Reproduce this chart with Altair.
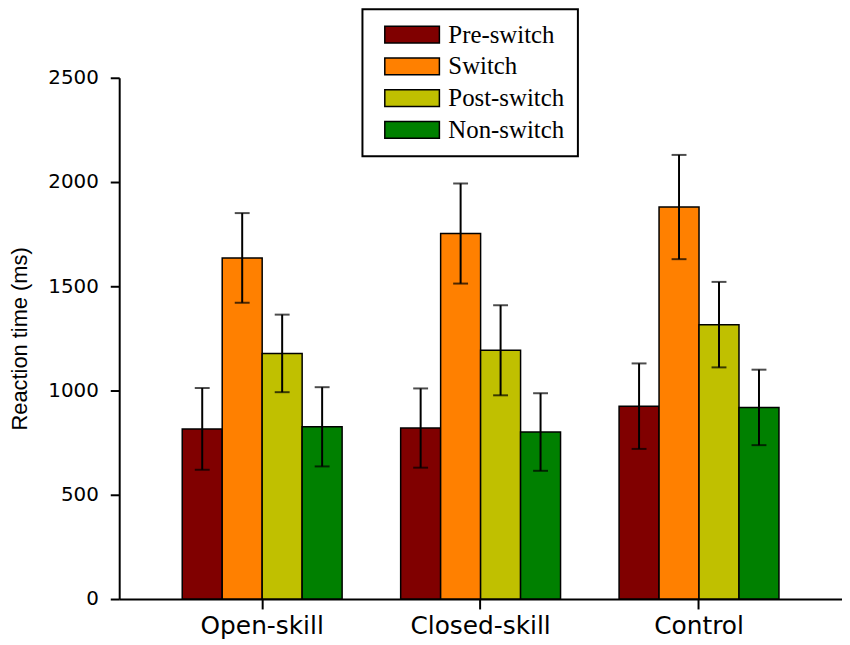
import altair as alt
import pandas as pd

groups = ["Open-skill", "Closed-skill", "Control"]
conditions = ["Pre-switch", "Switch", "Post-switch", "Non-switch"]
colors = ["#800000", "#FF8000", "#C0C000", "#008000"]

pre_mean = [816, 820, 925]
switch_mean = [1636, 1753, 1880]
post_mean = [1178, 1193, 1316]
non_mean = [826, 801, 919]

pre_err = [196, 190, 205]
switch_err = [215, 240, 250]
post_err = [186, 216, 205]
non_err = [190, 186, 181]

means = [pre_mean, switch_mean, post_mean, non_mean]
errs = [pre_err, switch_err, post_err, non_err]

rows = []
for ci, cond in enumerate(conditions):
    for gi, g in enumerate(groups):
        m = means[ci][gi]
        e = errs[ci][gi]
        rows.append({"group": g, "cond": cond, "mean": m, "lo": m - e, "hi": m + e})
df = pd.DataFrame(rows)

x_enc = alt.X("group:N", sort=groups,
              scale=alt.Scale(paddingInner=0.268, paddingOuter=0.2886),
              axis=alt.Axis(title=None, labelAngle=0, labelFont="DejaVu Sans",
                            labelFontSize=25, labelColor="black", labelPadding=5,
                            tickSize=10, tickWidth=2, tickColor="black",
                            domainColor="black", domainWidth=2, grid=False))
xo_enc = alt.XOffset("cond:N", sort=conditions,
                     scale=alt.Scale(domain=conditions, paddingInner=0, paddingOuter=0))

y_scale = alt.Scale(domain=[0, 2500], nice=False)

bars = alt.Chart(df).mark_bar(stroke="black", strokeWidth=1.5).encode(
    x=x_enc,
    xOffset=xo_enc,
    y=alt.Y("mean:Q", scale=y_scale,
            axis=alt.Axis(title="Reaction time (ms)", values=[0, 500, 1000, 1500, 2000, 2500],
                          format="d", grid=False, labelFont="DejaVu Sans", labelFontSize=20,
                          labelColor="black", labelPadding=12, tickSize=9, tickWidth=2,
                          tickColor="black", domainColor="black", domainWidth=2,
                          titleFont="Liberation Sans", titleFontSize=22,
                          titleFontWeight="normal", titleColor="black", titlePadding=16)),
    fill=alt.Fill("cond:N", sort=conditions,
                  scale=alt.Scale(domain=conditions, range=colors),
                  legend=alt.Legend(title=None, orient="none", legendX=245, legendY=-69,
                                    direction="vertical",
                                    symbolType="M-2.75,-0.85L2.75,-0.85L2.75,0.85L-2.75,0.85Z",
                                    symbolSize=400, symbolStrokeColor="black",
                                    symbolStrokeWidth=1.5, symbolOpacity=1,
                                    symbolOffset=24.5,
                                    labelFont="Liberation Serif", labelFontSize=25,
                                    labelColor="black", labelOffset=24,
                                    padding=13, rowPadding=6,
                                    strokeColor="black",
                                    fillColor="white", cornerRadius=0)),
)

rules = alt.Chart(df).mark_rule(color="black", strokeWidth=2).encode(
    x=alt.X("group:N", sort=groups),
    xOffset=alt.XOffset("cond:N", sort=conditions),
    y=alt.Y("lo:Q", scale=y_scale),
    y2="hi:Q",
)

caps_hi = alt.Chart(df).mark_tick(color="black", thickness=2, size=15).encode(
    x=alt.X("group:N", sort=groups),
    xOffset=alt.XOffset("cond:N", sort=conditions),
    y=alt.Y("hi:Q", scale=y_scale),
)
caps_lo = alt.Chart(df).mark_tick(color="black", thickness=2, size=15).encode(
    x=alt.X("group:N", sort=groups),
    xOffset=alt.XOffset("cond:N", sort=conditions),
    y=alt.Y("lo:Q", scale=y_scale),
)

chart = alt.layer(bars, rules, caps_hi, caps_lo).properties(
    width=728, height=525,
    background="white",
    autosize=alt.AutoSizeParams(type="none"),
    padding={"left": 112, "top": 68, "right": 0, "bottom": 40},
).configure_view(strokeWidth=0, stroke="transparent").configure_legend(
    strokeWidth=2
).configure_axis(grid=False)

chart.save("out.html", embed_options={"renderer": "svg", "actions": False})
